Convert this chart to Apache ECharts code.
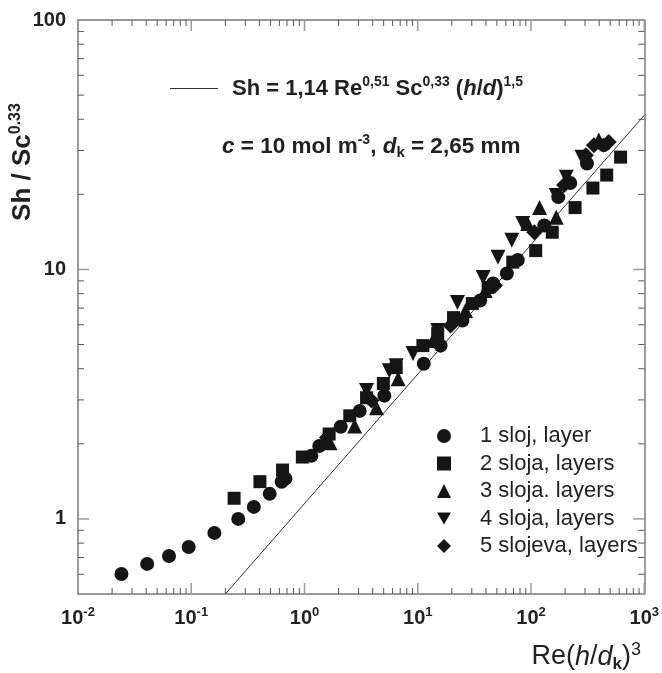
<!DOCTYPE html>
<html><head><meta charset="utf-8">
<script src="https://cdn.jsdelivr.net/npm/echarts@6/dist/echarts.min.js"></script>
<style>html,body{margin:0;padding:0;background:#fff}#c{width:662px;height:673px}</style>
</head><body><div id="c"></div>
<script>
const FONT = '"Liberation Sans", Arial, Helvetica, sans-serif';
const seriesNames = ['1 sloj, layer','2 sloja, layers','3 sloja. layers','4 sloja, layers','5 slojeva, layers'];
// 1 sloj (circles)
const s1x = [0.0242,0.0408,0.0636,0.0949,0.160,0.260,0.357,0.493,0.628,0.679,1.15,1.35,2.09,3.07,5.07,11.3,15.9,24.8,35.6,46.2,61.2,76.4,131,174,222,312,439];
const s1y = [0.601,0.660,0.710,0.772,0.879,1.00,1.117,1.26,1.41,1.45,1.79,1.96,2.34,2.71,3.12,4.19,4.95,6.24,7.51,8.79,9.64,10.9,15.0,19.5,22.2,26.6,31.5];
// 2 sloja (squares)
const s2x = [0.239,0.404,0.64,0.957,1.65,2.51,3.53,4.97,6.45,11.1,15.0,20.7,30.3,41.8,69,110,154,245,352,466,618];
const s2y = [1.21,1.41,1.57,1.77,2.19,2.59,3.06,3.49,4.04,4.95,5.53,6.41,7.3,8.47,10.7,11.9,14.1,17.7,21.2,23.9,28.2];
// 3 sloja (triangles up)
const s3x = [1.68,2.77,4.32,6.71,13.6,26.4,39.4,93.3,119,167,397];
const s3y = [2.02,2.36,2.79,3.65,5.19,6.85,8.24,15.3,17.7,16.2,33.0];
// 4 sloja (triangles down)
const s4x = [3.53,5.61,6.45,9.08,15.0,22.4,37.8,51.1,67.7,84.5,167,205,282];
const s4y = [3.27,3.93,4.11,4.60,5.69,7.37,9.29,11.2,13.1,15.3,19.8,23.4,28.2];
// 5 slojeva (diamonds)
const s5x = [1.58,3.91,19.5,48.1,107,196,305,359,485];
const s5y = [2.12,2.98,5.96,8.62,14.1,21.8,28.7,31.5,32.4];
// correlation line end points
const fitX = [0.2, 1000];
const fitY = [0.5, 41.5];
// axes
const xMin = 0.01, xMax = 1000, yMin = 0.5, yMax = 100;
const xMajor = [0.01,0.1,1,10,100,1000];
const yMajor = [1,10,100];
const xMinor = [];
[-2,-1,0,1,2].forEach(d => { for (let m = 2; m <= 9; m++) xMinor.push(Number((m*Math.pow(10,d)).toPrecision(6))); });
const yMinor = [0.6,0.7,0.8,0.9];
[0,1].forEach(d => { for (let m = 2; m <= 9; m++) yMinor.push(Number((m*Math.pow(10,d)).toPrecision(6))); });

const zip = (xs, ys) => xs.map((x, i) => [x, ys[i]]);
const AX = '#7a7a7a';

function mkAxis(pos, isX, labels) {
  return {
    type: 'log', logBase: 10, min: isX ? xMin : yMin, max: isX ? xMax : yMax, position: pos,
    axisLine: { show: true, onZero: false, lineStyle: { color: AX, width: 1.5 } },
    axisTick: { show: false },
    axisLabel: labels ? labels : { show: false },
    splitLine: { show: false }, minorTick: { show: false }
  };
}
const xLab = {
  show: true, customValues: xMajor, margin: 12,
  formatter: v => '{b|10}{s|' + Math.round(Math.log10(v)) + '}',
  rich: {
    b: { fontFamily: FONT, fontWeight: 'bold', fontSize: 20, color: '#222', lineHeight: 24 },
    s: { fontFamily: FONT, fontWeight: 'bold', fontSize: 13, color: '#222', verticalAlign: 'top', lineHeight: 14 }
  }
};
const yLab = {
  show: true, customValues: yMajor, margin: 12,
  formatter: v => String(v),
  fontFamily: FONT, fontWeight: 'bold', fontSize: 20, color: '#222'
};

const mk = { color: '#151515', opacity: 1 };
const downTri = 'path://M0,0L20,0L10,17.3Z';

const textGraphics = [
  {
    type: 'text', x: 222, y: 147,
    style: {
      text: '{bi|c}{b| = 10 mol m}{s|-3}{b|, }{bi|d}{k|k}{b| = 2,65 mm}',
      verticalAlign: 'middle', align: 'left',
      rich: {
        b: { fontFamily: FONT, fontWeight: 'bold', fontSize: 22.5, fill: '#222', lineHeight: 27 },
        bi: { fontFamily: FONT, fontWeight: 'bold', fontStyle: 'italic', fontSize: 22.5, fill: '#222', lineHeight: 27 },
        s: { fontFamily: FONT, fontWeight: 'bold', fontSize: 14, fill: '#222', verticalAlign: 'top', lineHeight: 15 },
        k: { fontFamily: FONT, fontWeight: 'bold', fontSize: 15, fill: '#222', verticalAlign: 'bottom', lineHeight: 15 }
      }
    }
  },
  {
    type: 'text', x: 23, y: 162, rotation: Math.PI / 2,
    style: {
      text: '{b|Sh / Sc}{s|0.33}',
      align: 'center', verticalAlign: 'middle',
      rich: {
        b: { fontFamily: FONT, fontWeight: 'bold', fontSize: 26, fill: '#222', lineHeight: 30 },
        s: { fontFamily: FONT, fontWeight: 'bold', fontSize: 16, fill: '#222', verticalAlign: 'top', lineHeight: 17 }
      }
    }
  },
  {
    type: 'text', x: 641, y: 657,
    style: {
      text: '{n|Re(}{i|h}{n|/}{i|d}{k|k}{n|)}{s|3}',
      align: 'right', verticalAlign: 'middle',
      rich: {
        n: { fontFamily: FONT, fontSize: 27, fill: '#222', lineHeight: 31 },
        i: { fontFamily: FONT, fontStyle: 'italic', fontSize: 27, fill: '#222', lineHeight: 31 },
        s: { fontFamily: FONT, fontSize: 18, fill: '#222', verticalAlign: 'top', lineHeight: 18 },
        k: { fontFamily: FONT, fontWeight: 'bold', fontSize: 17, fill: '#222', verticalAlign: 'bottom', lineHeight: 16 }
      }
    }
  }
];

const option = {
  animation: false,
  backgroundColor: '#fff',
  grid: { left: 78, right: 11, top: 20, bottom: 79, containLabel: false },
  xAxis: [ mkAxis('bottom', true, xLab), mkAxis('top', true, null) ],
  yAxis: [ mkAxis('left', false, yLab), mkAxis('right', false, null) ],
  legend: [
    {
      data: seriesNames, orient: 'vertical', left: 432, top: 420,
      itemWidth: 14, itemHeight: 14, itemGap: 5.5,
      textStyle: { fontFamily: FONT, fontSize: 22, color: '#222', lineHeight: 21, padding: [0, 0, 0, 24] },
      selectedMode: false
    },
    {
      data: [{ name: 'fit', icon: 'rect' }], left: 165, top: 70,
      itemWidth: 48, itemHeight: 1.2,
      selectedMode: false,
      formatter: () => '{b|Sh = 1,14 Re}{s|0,51}{b| Sc}{s|0,33}{b| (}{bi|h}{b|/}{bi|d}{b|)}{s|1,5}',
      textStyle: {
        padding: [0, 0, 0, 9],
        rich: {
          b: { fontFamily: FONT, fontWeight: 'bold', fontSize: 22, color: '#222', lineHeight: 27 },
          bi: { fontFamily: FONT, fontWeight: 'bold', fontStyle: 'italic', fontSize: 22, color: '#222', lineHeight: 27 },
          s: { fontFamily: FONT, fontWeight: 'bold', fontSize: 14, color: '#222', verticalAlign: 'top', lineHeight: 15 }
        }
      }
    }
  ],
  graphic: textGraphics,
  series: [
    { name: 'fit', type: 'line', data: zip(fitX, fitY), showSymbol: false, symbol: 'none', clip: true,
      lineStyle: { color: '#333', width: 1 }, itemStyle: { color: '#333' }, z: 1 },
    { name: seriesNames[0], type: 'scatter', symbol: 'circle', symbolSize: 14, data: zip(s1x, s1y), itemStyle: mk },
    { name: seriesNames[1], type: 'scatter', symbol: 'rect', symbolSize: 13, data: zip(s2x, s2y), itemStyle: mk },
    { name: seriesNames[2], type: 'scatter', symbol: 'triangle', symbolSize: 15, data: zip(s3x, s3y), itemStyle: mk },
    { name: seriesNames[3], type: 'scatter', symbol: downTri, symbolSize: 15, data: zip(s4x, s4y), itemStyle: mk },
    { name: seriesNames[4], type: 'scatter', symbol: 'diamond', symbolSize: 16, data: zip(s5x, s5y), itemStyle: mk }
  ]
};
const chart = echarts.init(document.getElementById('c'), null, { renderer: 'canvas' });
chart.setOption(option);

// inward tick marks on all four sides, positioned through the log axes' own scale
const tickGraphics = [];
const conv = p => chart.convertToPixel({ xAxisIndex: 0, yAxisIndex: 0 }, p);
function addTick(p, dx, dy, color, w) {
  if (!p || isNaN(p[0]) || isNaN(p[1])) return;
  tickGraphics.push({ type: 'line', silent: true, z: 5,
    shape: { x1: p[0], y1: p[1], x2: p[0] + dx, y2: p[1] + dy },
    style: { stroke: color, lineWidth: w } });
}
const MAJ = ['#9a9a9a', 1.5, 11], MIN = ['#555', 1, 6];
function xTicks(vals, st) {
  vals.forEach(v => {
    addTick(conv([v, yMin]), 0, -st[2], st[0], st[1]);
    addTick(conv([v, yMax]), 0, st[2], st[0], st[1]);
  });
}
function yTicks(vals, st) {
  vals.forEach(v => {
    addTick(conv([xMin, v]), st[2], 0, st[0], st[1]);
    addTick(conv([xMax, v]), -st[2], 0, st[0], st[1]);
  });
}
xTicks(xMajor, MAJ); xTicks(xMinor, MIN);
yTicks(yMajor, MAJ); yTicks(yMinor, MIN);
chart.setOption({ graphic: textGraphics.concat(tickGraphics) });
</script>
</body></html>
